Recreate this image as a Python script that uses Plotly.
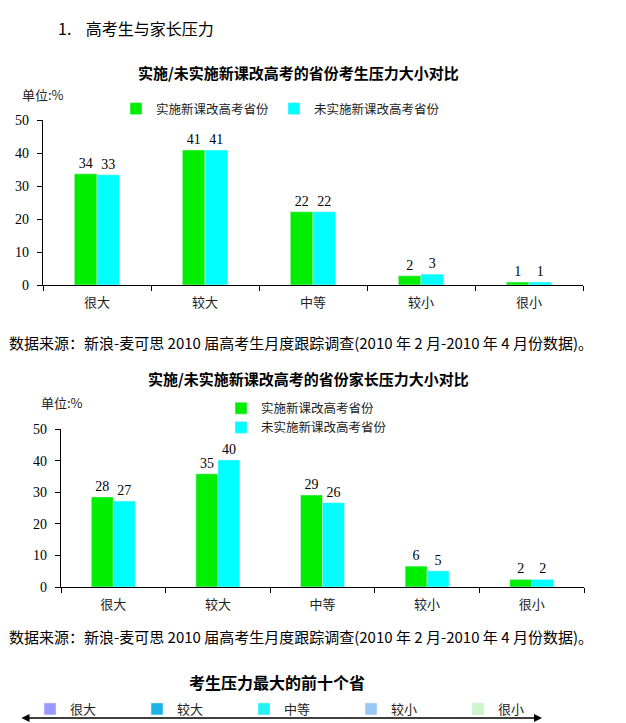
import plotly.graph_objects as go

W, H = 626, 723

categories = ["很大", "较大", "中等", "较小", "很小"]
series_names = ["实施新课改高考省份", "未实施新课改高考省份"]

# Chart 1: student pressure (%)
student_reform = [33.7, 40.9, 22.2, 2.8, 0.9]
student_nonreform = [33.4, 40.9, 22.2, 3.3, 0.9]
student_reform_labels = ["34", "41", "22", "2", "1"]
student_nonreform_labels = ["33", "41", "22", "3", "1"]

# Chart 2: parent pressure (%)
parent_reform = [28.5, 35.8, 29.1, 6.6, 2.4]
parent_nonreform = [27.2, 40.2, 26.7, 5.1, 2.4]
parent_reform_labels = ["28", "35", "29", "6", "2"]
parent_nonreform_labels = ["27", "40", "26", "5", "2"]

# Bottom section legend
bottom_levels = ["很大", "较大", "中等", "较小", "很小"]
bottom_colors = ["#9999FF", "#1CB4E6", "#22F2F2", "#99C8F5", "#CCF5CC"]

y_ticks = [0, 10, 20, 30, 40, 50]

GREEN = "#00EE00"
CYAN = "#00FFFF"
SERIF = "Liberation Serif, Noto Sans CJK SC"
CJK = "Noto Sans CJK SC"


def px(x):
    return x / W


def py(y):
    return 1 - y / H


fig = go.Figure()

label_font = dict(family=SERIF, size=14, color="black")

fig.add_trace(go.Bar(x=categories, y=student_reform, name=series_names[0],
                     marker_color=GREEN, text=student_reform_labels,
                     textposition="outside", constraintext="none", cliponaxis=False,
                     textfont=label_font, xaxis="x", yaxis="y", legend="legend"))
fig.add_trace(go.Bar(x=categories, y=student_nonreform, name=series_names[1],
                     marker_color=CYAN, text=student_nonreform_labels,
                     textposition="outside", constraintext="none", cliponaxis=False,
                     textfont=label_font, xaxis="x", yaxis="y", legend="legend"))
fig.add_trace(go.Bar(x=categories, y=parent_reform, name=series_names[0],
                     marker_color=GREEN, text=parent_reform_labels,
                     textposition="outside", constraintext="none", cliponaxis=False,
                     textfont=label_font, xaxis="x2", yaxis="y2", legend="legend2"))
fig.add_trace(go.Bar(x=categories, y=parent_nonreform, name=series_names[1],
                     marker_color=CYAN, text=parent_nonreform_labels,
                     textposition="outside", constraintext="none", cliponaxis=False,
                     textfont=label_font, xaxis="x2", yaxis="y2", legend="legend2"))

for name, color in zip(bottom_levels, bottom_colors):
    fig.add_trace(go.Bar(x=[None], y=[None], name=name, marker_color=color,
                         xaxis="x3", yaxis="y3", legend="legend3"))

xaxis_common = dict(type="category", showline=True, linecolor="black", linewidth=1.2,
                    ticks="outside", ticklen=5, tickcolor="black", tickson="boundaries",
                    showgrid=False, zeroline=False, ticklabelstandoff=5,
                    tickfont=dict(family=SERIF, size=13, color="#222"))
yaxis_common = dict(range=[0, 50], tickvals=y_ticks, showline=True, linecolor="black",
                    linewidth=1.2, ticks="outside", ticklen=5, tickcolor="black",
                    showgrid=False, zeroline=False, ticklabelstandoff=5,
                    tickfont=dict(family=SERIF, size=14, color="black"))

legend_common = dict(bgcolor="rgba(0,0,0,0)", borderwidth=0,
                     xanchor="left", yanchor="middle", itemclick=False,
                     itemdoubleclick=False, tracegroupgap=0)
legend_font = dict(family=CJK, size=12.5, color="#222")

fig.update_layout(
    width=W, height=H,
    margin=dict(l=0, r=0, t=0, b=0, pad=0, autoexpand=False),
    paper_bgcolor="white", plot_bgcolor="white",
    barmode="group", bargap=0.58, bargroupgap=0,
    xaxis=dict(domain=[px(43), px(583)], anchor="y", **xaxis_common),
    yaxis=dict(domain=[py(285), py(120)], anchor="x", **yaxis_common),
    xaxis2=dict(domain=[px(61), px(584)], anchor="y2", **xaxis_common),
    yaxis2=dict(domain=[py(587), py(429)], anchor="x2", **yaxis_common),
    xaxis3=dict(domain=[0.9, 0.95], anchor="y3", visible=False),
    yaxis3=dict(domain=[0.0, 0.01], anchor="x3", visible=False),
    legend=dict(orientation="h", x=px(116), y=py(109), font=legend_font, **legend_common),
    legend2=dict(orientation="v", x=px(221), y=py(418), font=legend_font, **legend_common),
    legend3=dict(orientation="h", x=px(30), y=py(709), entrywidth=62,
                 font=dict(family=CJK, size=13, color="#222"), **legend_common),
    showlegend=True,
)

annotations = [
    dict(text="1.&nbsp;&nbsp;&nbsp;&nbsp;高考生与家长压力", x=px(56), y=py(28),
         xanchor="left", yanchor="middle", font=dict(family=CJK, size=16, color="black")),
    dict(text="<b>实施/未实施新课改高考的省份考生压力大小对比</b>", x=px(298), y=py(73),
         xanchor="center", yanchor="middle", font=dict(family=CJK, size=15, color="black")),
    dict(text="单位:%", x=px(20), y=py(95), xanchor="left", yanchor="middle",
         font=dict(family=CJK, size=13, color="#222")),
    dict(text="数据来源：新浪-麦可思 2010 届高考生月度跟踪调查(2010 年 2 月-2010 年 4 月份数据)。",
         x=px(7), y=py(342), xanchor="left", yanchor="middle",
         font=dict(family=CJK, size=15, color="black")),
    dict(text="<b>实施/未实施新课改高考的省份家长压力大小对比</b>", x=px(308), y=py(378),
         xanchor="center", yanchor="middle", font=dict(family=CJK, size=15, color="black")),
    dict(text="单位:%", x=px(39), y=py(402), xanchor="left", yanchor="middle",
         font=dict(family=CJK, size=13, color="#222")),
    dict(text="数据来源：新浪-麦可思 2010 届高考生月度跟踪调查(2010 年 2 月-2010 年 4 月份数据)。",
         x=px(7), y=py(636), xanchor="left", yanchor="middle",
         font=dict(family=CJK, size=15, color="black")),
    dict(text="<b>考生压力最大的前十个省</b>", x=px(277), y=py(682),
         xanchor="center", yanchor="middle", font=dict(family=CJK, size=16, color="black")),
    dict(text="", x=px(542), y=py(718), ax=-(542 - 20), ay=0,
         axref="pixel", ayref="pixel",
         showarrow=True, arrowhead=2, startarrowhead=2, arrowside="end+start",
         arrowwidth=1.6, arrowsize=1, startarrowsize=1, arrowcolor="black"),
]
for a in annotations:
    a.setdefault("xref", "paper")
    a.setdefault("yref", "paper")
    a.setdefault("showarrow", False)
fig.update_layout(annotations=annotations)

fig.write_html("out.html", config={"displayModeBar": False},
               post_script="document.body.style.margin='0';")
